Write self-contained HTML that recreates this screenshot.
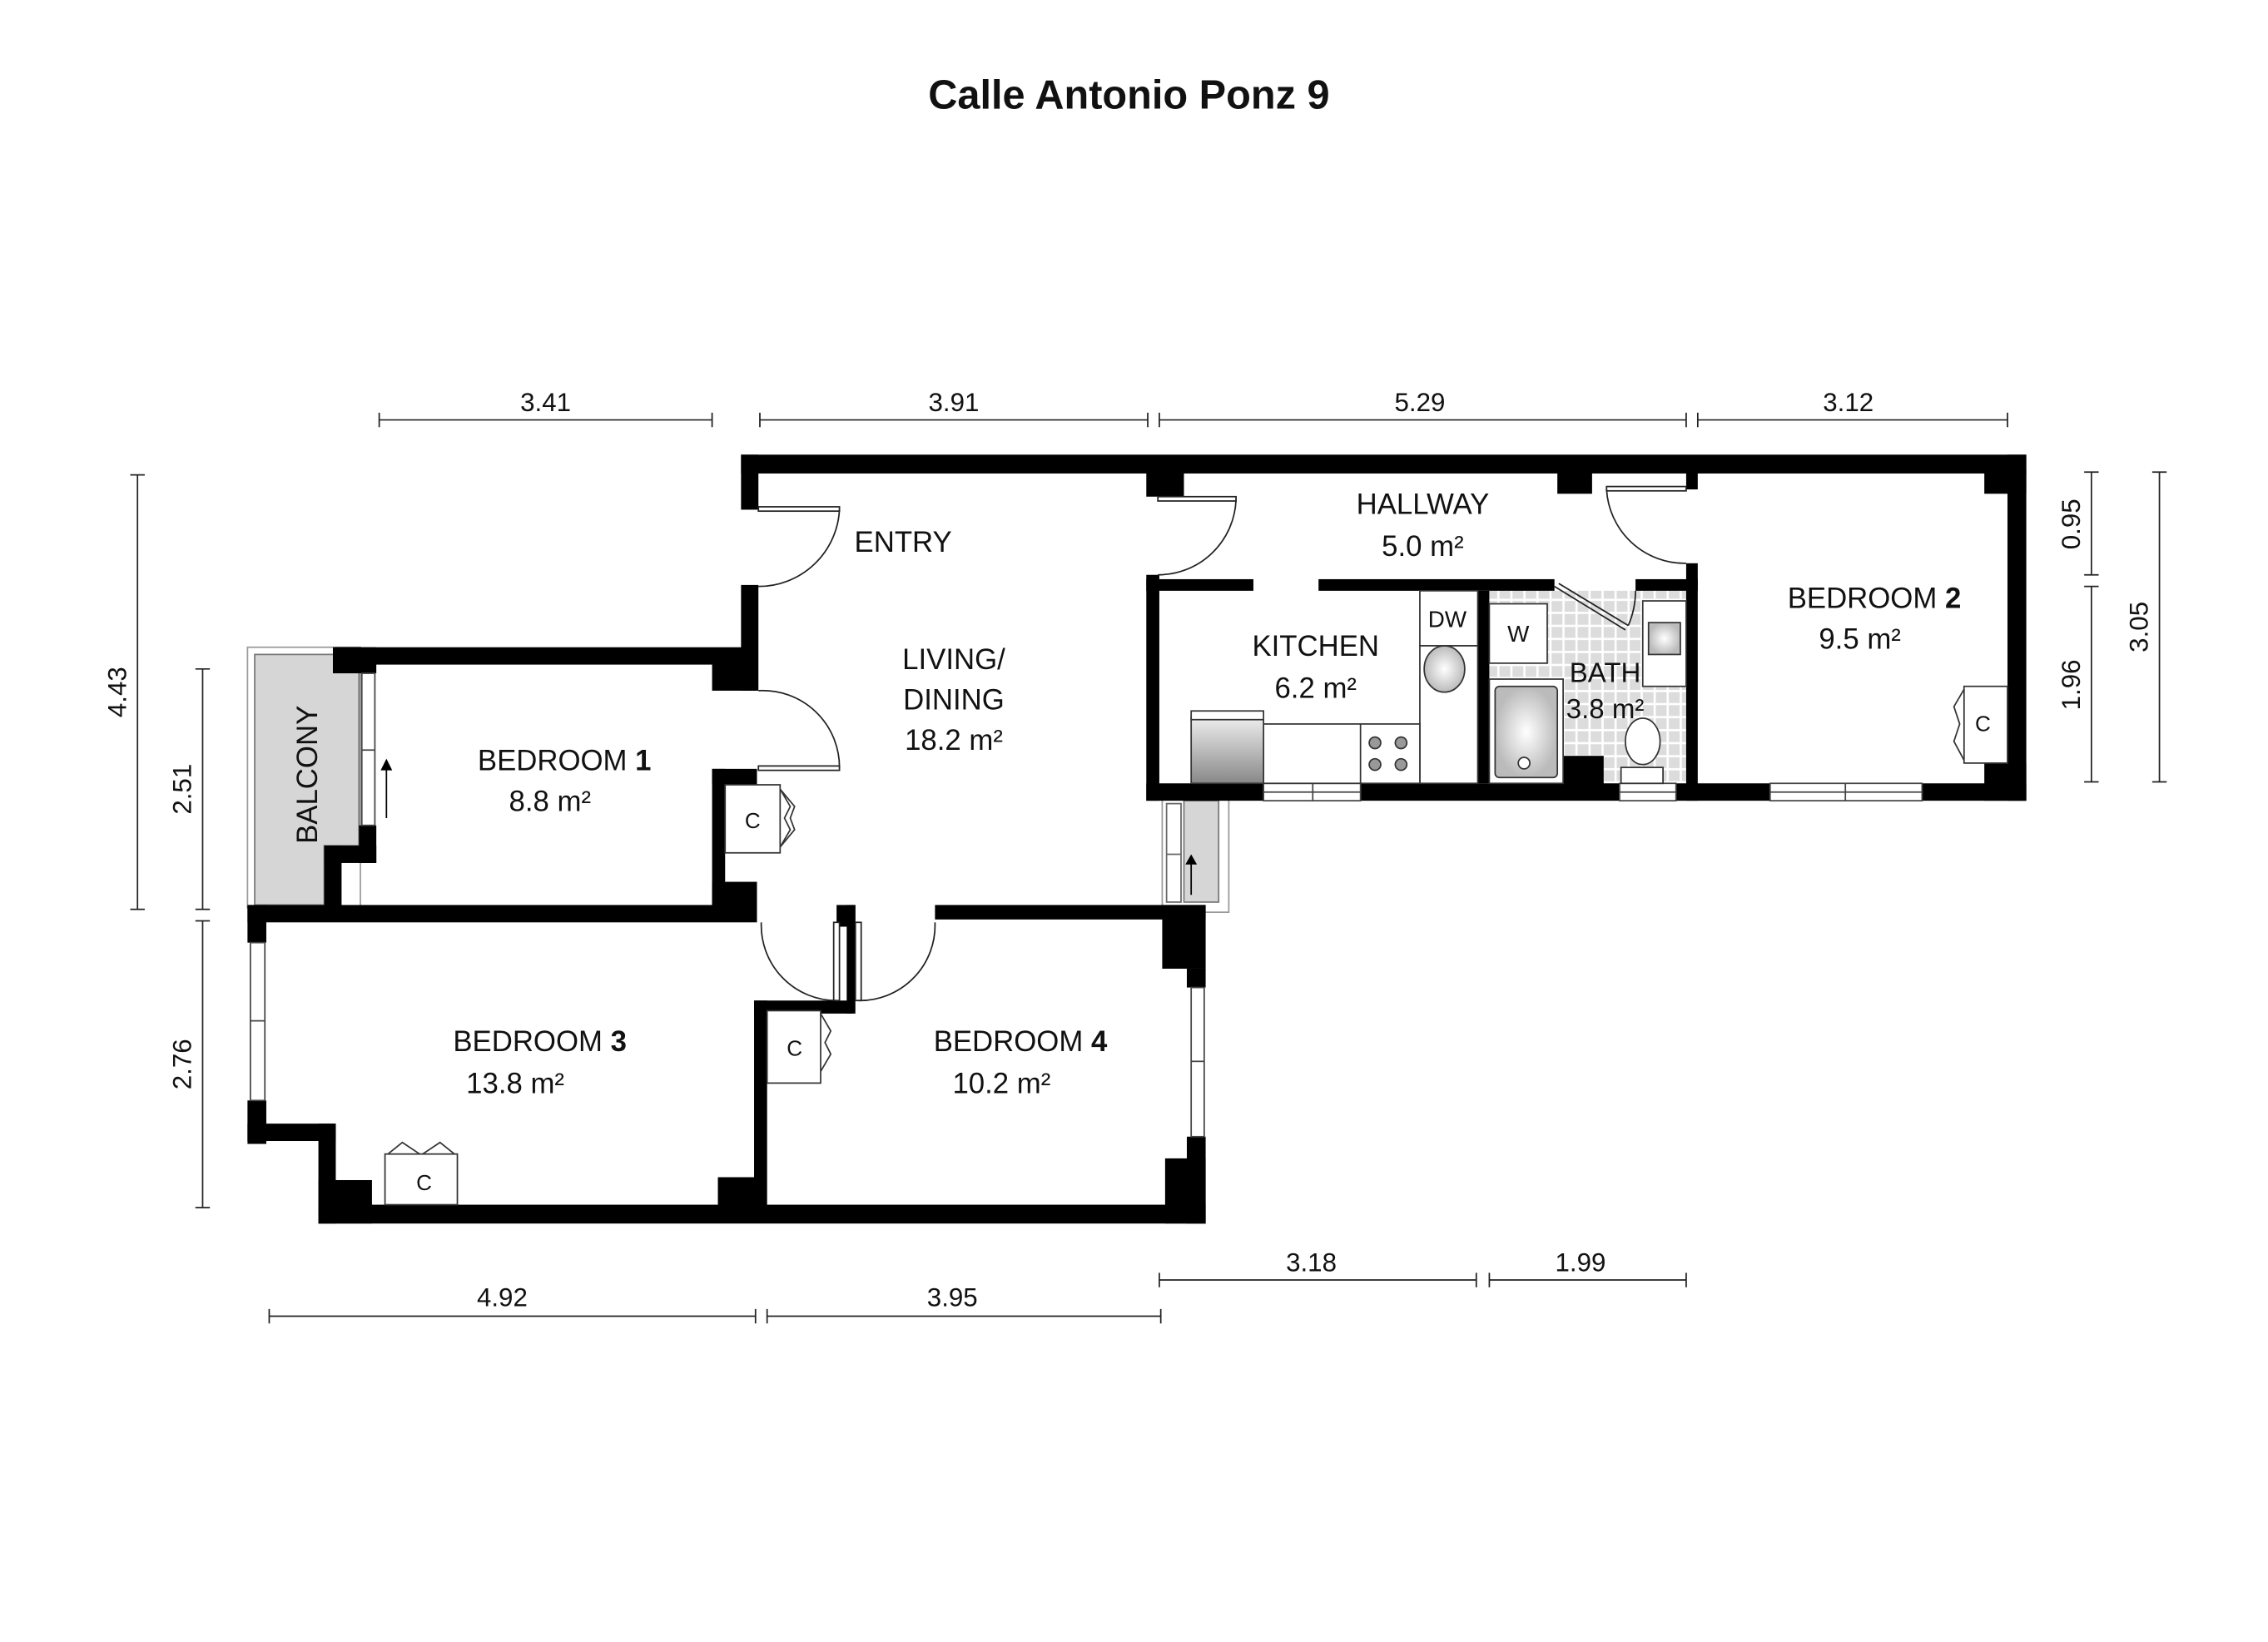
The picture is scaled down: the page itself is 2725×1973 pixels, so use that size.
<!DOCTYPE html>
<html><head><meta charset="utf-8"><style>
html,body{margin:0;padding:0;background:#fff}
svg{display:block}
text{font-family:"Liberation Sans",sans-serif;fill:#111}
.l{font-size:20px}
.d{font-size:18px}
</style></head><body>
<svg width="2725" height="1973" viewBox="0 0 1567 1134" preserveAspectRatio="none" xmlns="http://www.w3.org/2000/svg">
<defs>
<pattern id="tile" width="9" height="9" patternUnits="userSpaceOnUse">
<rect width="9" height="9" fill="#fff"/><rect x="1" y="1" width="7.5" height="7.5" fill="#dcdcdc"/>
</pattern>
<linearGradient id="g1" x1="0" y1="0" x2="0" y2="1"><stop offset="0" stop-color="#eee"/><stop offset="1" stop-color="#888"/></linearGradient>
<radialGradient id="g2"><stop offset="0" stop-color="#fff"/><stop offset="1" stop-color="#bbb"/></radialGradient>
</defs>
<text x="780" y="75" text-anchor="middle" font-size="28" font-weight="bold">Calle Antonio Ponz 9</text>
<g stroke="#222" stroke-width="1" fill="none">
<path d="M262 290H492M262 285v10M492 285v10"/>
<path d="M525 290H793M525 285v10M793 285v10"/>
<path d="M801 290H1165M801 285v10M1165 285v10"/>
<path d="M1173 290H1387M1173 285v10M1387 285v10"/>
<path d="M95 328V628M90 328h10M90 628h10"/>
<path d="M140 462V628M135 462h10M135 628h10"/>
<path d="M140 636V834M135 636h10M135 834h10"/>
<path d="M1445 326V397M1440 326h10M1440 397h10"/>
<path d="M1445 405V540M1440 405h10M1440 540h10"/>
<path d="M1492 326V540M1487 326h10M1487 540h10"/>
<path d="M801 884H1020M801 879v10M1020 879v10"/>
<path d="M1029 884H1165M1029 879v10M1165 879v10"/>
<path d="M186 909H522M186 904v10M522 904v10"/>
<path d="M530 909H802M530 904v10M802 904v10"/>
</g>
<g class="d" text-anchor="middle">
<text x="377" y="284">3.41</text><text x="659" y="284">3.91</text><text x="981" y="284">5.29</text><text x="1277" y="284">3.12</text>
<text x="906" y="878">3.18</text><text x="1092" y="878">1.99</text>
<text x="347" y="902">4.92</text><text x="658" y="902">3.95</text>
<text transform="translate(87 478) rotate(-90)">4.43</text>
<text transform="translate(132 545) rotate(-90)">2.51</text>
<text transform="translate(132 735) rotate(-90)">2.76</text>
<text transform="translate(1437 362) rotate(-90)">0.95</text>
<text transform="translate(1437 473) rotate(-90)">1.96</text>
<text transform="translate(1484 433) rotate(-90)">3.05</text>
</g>
<rect x="171" y="447" width="78" height="180" fill="none" stroke="#999" stroke-width="1"/>
<path d="M176 452H248V584H224V625H176Z" fill="#d6d6d6" stroke="#777" stroke-width="1"/>
<text transform="translate(219 535) rotate(-90)" class="l" text-anchor="middle">BALCONY</text>
<rect x="803" y="545" width="46" height="85" fill="none" stroke="#999"/>
<rect x="818" y="553" width="24" height="70" fill="#d6d6d6" stroke="#777"/>
<path d="M823 618V592" stroke="#000"/><path d="M819 597l4-7 4 7z"/>
<rect x="806" y="555" width="10" height="68" fill="#fff" stroke="#666"/>
<path d="M806 590h10" stroke="#666"/>
<rect x="1029" y="408" width="136" height="133" fill="url(#tile)"/>
<g fill="#000">
<rect x="512" y="314" width="888" height="13"/>
<rect x="512" y="314" width="12" height="38"/>
<rect x="512" y="404" width="12" height="73"/>
<rect x="492" y="457" width="31" height="20"/>
<rect x="232" y="447" width="291" height="12"/>
<rect x="230" y="447" width="30" height="18"/>
<rect x="248" y="570" width="12" height="26"/>
<rect x="224" y="584" width="36" height="12"/>
<rect x="224" y="584" width="12" height="51"/>
<rect x="492" y="531" width="31" height="11"/>
<rect x="492" y="531" width="9" height="104"/>
<rect x="492" y="609" width="31" height="26"/>
<rect x="171" y="625" width="352" height="12"/>
<rect x="171" y="625" width="13" height="26"/>
<rect x="171" y="760" width="13" height="30"/>
<rect x="171" y="776" width="61" height="12"/>
<rect x="220" y="776" width="12" height="69"/>
<rect x="220" y="815" width="37" height="30"/>
<rect x="220" y="832" width="613" height="13"/>
<rect x="496" y="813" width="31" height="25"/>
<rect x="521" y="691" width="9" height="150"/>
<rect x="521" y="691" width="68" height="9"/>
<rect x="578" y="625" width="13" height="15"/>
<rect x="585" y="625" width="6" height="75"/>
<rect x="646" y="625" width="187" height="10"/>
<rect x="803" y="625" width="30" height="44"/>
<rect x="820" y="669" width="13" height="13"/>
<rect x="820" y="785" width="13" height="60"/>
<rect x="805" y="800" width="28" height="45"/>
<rect x="792" y="325" width="26" height="18"/>
<rect x="792" y="397" width="9" height="156"/>
<rect x="792" y="400" width="74" height="8"/>
<rect x="911" y="400" width="163" height="8"/>
<rect x="1021" y="408" width="8" height="133"/>
<rect x="1130" y="400" width="43" height="8"/>
<rect x="1165" y="389" width="8" height="164"/>
<rect x="1165" y="325" width="8" height="13"/>
<rect x="1076" y="325" width="24" height="16"/>
<rect x="1371" y="325" width="29" height="16"/>
<rect x="1387" y="314" width="13" height="239"/>
<rect x="1371" y="527" width="29" height="26"/>
<rect x="792" y="541" width="608" height="12"/>
<rect x="1080" y="522" width="28" height="20"/>
</g>
<g fill="#fff" stroke="#444" stroke-width="1">
<rect x="250" y="465" width="9" height="105"/><path d="M250 518h9"/>
<rect x="173" y="651" width="10" height="109"/><path d="M173 705h10"/>
<rect x="823" y="682" width="9" height="103"/><path d="M823 733h9"/>
<rect x="873" y="541" width="67" height="12"/><path d="M873 547h67M907 541v12"/>
<rect x="1119" y="541" width="39" height="12"/><path d="M1119 547h39"/>
<rect x="1223" y="541" width="105" height="12"/><path d="M1223 547h105M1275 541v12"/>
</g>
<path d="M267 565V528" stroke="#000"/><path d="M263 532l4-8 4 8z"/>
<g fill="none" stroke="#222" stroke-width="1">
<rect x="524" y="350" width="56" height="3" fill="#fff"/><path d="M580 352A56 56 0 0 1 524 405"/>
<rect x="524" y="529" width="56" height="3" fill="#fff"/><path d="M580 530A53 53 0 0 0 524 477"/>
<rect x="576" y="637" width="4" height="54" fill="#fff"/><path d="M526 637A52 52 0 0 0 578 691"/>
<rect x="591" y="637" width="4" height="54" fill="#fff"/><path d="M593 691A52 52 0 0 0 646 637"/>
<rect x="800" y="343" width="54" height="3" fill="#fff"/><path d="M854 345A54 54 0 0 1 800 397"/>
<rect x="1110" y="336" width="55" height="3" fill="#fff"/><path d="M1110 338A54 54 0 0 0 1165 389"/>
<path d="M1074 405L1123 435M1077 403L1125 432"/><path d="M1125 432A60 60 0 0 0 1130 408"/>
</g>
<g fill="#fff" stroke="#333" stroke-width="1">
<rect x="501" y="542" width="38" height="47"/>
<path d="M539 545l7 12-4 8 4 8-7 12M539 545l10 12-3 8 3 8-10 12" fill="none"/>
<rect x="530" y="698" width="37" height="50"/>
<path d="M567 700l7 12-4 8 4 8-7 12" fill="none"/>
<rect x="266" y="797" width="50" height="35"/>
<path d="M268 797l10-8 12 8M314 797l-10-8-12 8" fill="none"/>
<rect x="1357" y="474" width="30" height="53"/>
<path d="M1357 476l-7 12 4 12-4 12 7 13" fill="none"/>
</g>
<g font-size="15" text-anchor="middle">
<text x="520" y="572">C</text><text x="549" y="729">C</text><text x="293" y="822">C</text><text x="1370" y="505">C</text>
</g>
<g stroke="#333" stroke-width="1">
<rect x="981" y="408" width="40" height="38" fill="#fff"/>
<rect x="981" y="446" width="40" height="95" fill="#fff"/>
<ellipse cx="998" cy="462" rx="14" ry="16" fill="url(#g2)"/>
<rect x="873" y="500" width="108" height="41" fill="#fff"/>
<path d="M940 500v41"/>
<rect x="823" y="495" width="50" height="46" fill="url(#g1)"/>
<rect x="823" y="491" width="50" height="6" fill="#fff"/>
<g fill="#999"><circle cx="950" cy="513" r="4"/><circle cx="968" cy="513" r="4"/><circle cx="950" cy="528" r="4"/><circle cx="968" cy="528" r="4"/></g>
<rect x="1029" y="417" width="40" height="41" fill="#fff"/>
<rect x="1029" y="469" width="51" height="72" fill="#fff"/>
<rect x="1033" y="474" width="43" height="63" rx="3" fill="url(#g2)"/>
<circle cx="1053" cy="527" r="4" fill="#fff"/>
<rect x="1135" y="415" width="30" height="59" fill="#fff"/>
<rect x="1139" y="430" width="22" height="22" fill="url(#g2)"/>
<ellipse cx="1135" cy="512" rx="12" ry="16" fill="#fff"/>
<rect x="1120" y="530" width="29" height="11" fill="#fff"/>
</g>
<text x="1000" y="433" font-size="16" text-anchor="middle">DW</text>
<text x="1049" y="443" font-size="16" text-anchor="middle">W</text>
<g class="l" text-anchor="middle">
<text x="624" y="381">ENTRY</text>
<text x="659" y="462">LIVING/</text>
<text x="659" y="490">DINING</text>
<text x="659" y="518">18.2 m²</text>
<text x="983" y="355">HALLWAY</text>
<text x="983" y="384">5.0 m²</text>
<text x="909" y="453">KITCHEN</text>
<text x="909" y="482">6.2 m²</text>
<text x="1109" y="471" font-size="19">BATH</text>
<text x="1109" y="496" font-size="19">3.8 m²</text>
<text x="1295" y="420">BEDROOM <tspan font-weight="bold">2</tspan></text>
<text x="1285" y="448">9.5 m²</text>
<text x="390" y="532">BEDROOM <tspan font-weight="bold">1</tspan></text>
<text x="380" y="560">8.8 m²</text>
<text x="373" y="726">BEDROOM <tspan font-weight="bold">3</tspan></text>
<text x="356" y="755">13.8 m²</text>
<text x="705" y="726">BEDROOM <tspan font-weight="bold">4</tspan></text>
<text x="692" y="755">10.2 m²</text>
</g>
</svg>
</body></html>
